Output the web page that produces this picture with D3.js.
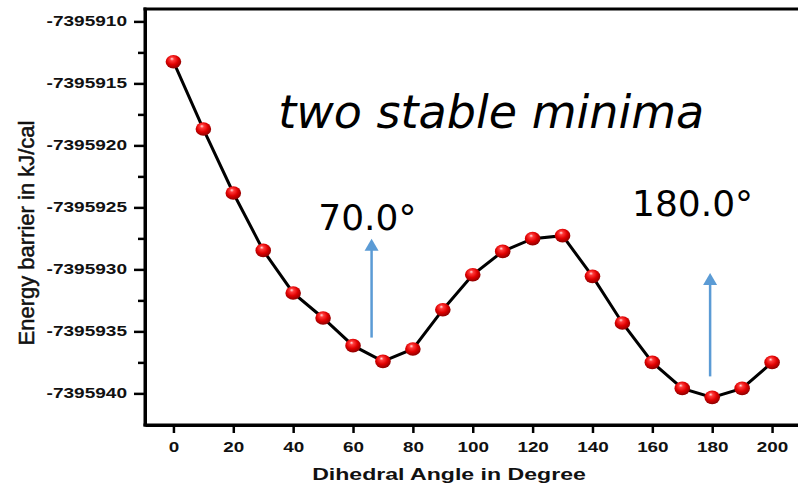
<!DOCTYPE html>
<html>
<head>
<meta charset="utf-8">
<script src="https://cdn.jsdelivr.net/npm/d3@7"></script>
<style>
  body { margin: 0; background: #fff; }
  svg { display: block; }
</style>
</head>
<body>
<svg id="chart" width="798" height="491"></svg>
<script>
// data
const angles = [0, 10, 20, 30, 40, 50, 60, 70, 80, 90, 100, 110, 120, 130, 140, 150, 160, 170, 180, 190, 200]
const energies = [
  -7395913.25, -7395918.68, -7395923.84, -7395928.47, -7395931.9, -7395933.92, -7395936.15,
  -7395937.42, -7395936.42, -7395933.25, -7395930.43, -7395928.55, -7395927.52, -7395927.28,
  -7395930.56, -7395934.32, -7395937.5, -7395939.6, -7395940.32, -7395939.6, -7395937.5
]
const xTicks = [0, 20, 40, 60, 80, 100, 120, 140, 160, 180, 200]
const yTicks = [-7395910, -7395915, -7395920, -7395925, -7395930, -7395935, -7395940]
const yMinorTicks = [-7395912.5, -7395917.5, -7395922.5, -7395927.5, -7395932.5, -7395937.5]

// annotations (data units)
const arrowX = [66.2, 179.3]
const arrowFrom = [-7395935.5, -7395938.63]
const arrowTo = [-7395927.52, -7395930.29]
const noteText = ['two stable minima', '70.0°', '180.0°']
const noteX = [35, 48.4, 153.2]
const noteY = [-7395918.57, -7395926.8, -7395925.7]

function draw() {
  const svg = d3.select('#chart')
  const mL = 145
  const mT = 9
  const mB = 425
  const mR = 802

  const x = d3.scaleLinear().domain([-9.5, 210]).range([mL, mR])
  const y = d3.scaleLinear().domain([-7395942.55, -7395909.0]).range([mB, mT])

  const defs = svg.append('defs')
  const grad = defs.append('radialGradient')
    .attr('id', 'ball')
    .attr('cx', '45%').attr('cy', '40%').attr('r', '60%')
    .attr('fx', '40%').attr('fy', '28%')
  grad.append('stop').attr('offset', '0%').attr('stop-color', '#ffe0e0')
  grad.append('stop').attr('offset', '22%').attr('stop-color', '#ff3a3a')
  grad.append('stop').attr('offset', '60%').attr('stop-color', '#e00000')
  grad.append('stop').attr('offset', '100%').attr('stop-color', '#8c0000')

  // x axis (domain line kept as the bottom edge)
  const gx = svg.append('g')
    .attr('transform', `translate(0,${mB})`)
    .call(d3.axisBottom(x).tickValues(xTicks).tickSize(8).tickSizeOuter(0).tickPadding(8.7).tickFormat(d => String(d)))
  gx.select('.domain').attr('stroke', '#000').attr('stroke-width', 3)
  gx.selectAll('.tick line').attr('stroke', '#000').attr('stroke-width', 2.5)
  gx.selectAll('text')
    .attr('font-family', 'Liberation Sans, Arial, sans-serif')
    .attr('font-weight', 'bold').attr('font-size', 14.5).attr('fill', '#111')
    .attr('transform', 'scale(1.3,1)')

  // y axis (domain line kept as the left edge)
  const gy = svg.append('g')
    .attr('transform', `translate(${mL},0)`)
    .call(d3.axisLeft(y).tickValues(yTicks).tickSize(11).tickSizeOuter(0).tickPadding(0).tickFormat(d => String(d)))
  gy.select('.domain').attr('stroke', '#000').attr('stroke-width', 3)
  gy.selectAll('.tick line').attr('stroke', '#000').attr('stroke-width', 2.5)
  gy.selectAll('text')
    .attr('x', -18 / 1.36)
    .attr('font-family', 'Liberation Sans, Arial, sans-serif')
    .attr('font-weight', 'bold').attr('font-size', 14).attr('fill', '#111')
    .attr('transform', 'scale(1.36,1)')

  const gyMinor = svg.append('g')
    .attr('transform', `translate(${mL},0)`)
    .call(d3.axisLeft(y).tickValues(yMinorTicks).tickSize(7).tickFormat(''))
  gyMinor.select('.domain').remove()
  gyMinor.selectAll('line').attr('stroke', '#000').attr('stroke-width', 2.5)

  // frame edges
  const edges = [
    [mL, mT, mR, mT],
    [mL, mT, mL, mB],
    [mL, mB, mR, mB]
  ]
  svg.selectAll('line.edge')
    .data(edges)
    .join('line')
    .attr('class', 'edge')
    .attr('x1', d => d[0]).attr('y1', d => d[1])
    .attr('x2', d => d[2]).attr('y2', d => d[3])
    .attr('stroke', '#000').attr('stroke-width', 3)
    .attr('stroke-linecap', 'square')

  // axis titles
  svg.append('text')
    .attr('x', 449 / 1.4).attr('y', 480)
    .attr('transform', 'scale(1.4,1)')
    .attr('text-anchor', 'middle')
    .attr('font-family', 'Liberation Sans, Arial, sans-serif')
    .attr('font-weight', 'bold').attr('font-size', 16.5).attr('fill', '#111')
    .text('Dihedral Angle in Degree')

  svg.append('text')
    .attr('transform', 'translate(34,233) rotate(-90)')
    .attr('text-anchor', 'middle')
    .attr('font-family', 'Liberation Sans, Arial, sans-serif')
    .attr('font-size', 22).attr('fill', '#111')
    .attr('stroke', '#111').attr('stroke-width', 0.5)
    .text('Energy barrier in kJ/cal')

  // curve
  const pts = angles.map((a, i) => [a, energies[i]])
  const line = d3.line().x(d => x(d[0])).y(d => y(d[1]))
  svg.append('path')
    .datum(pts)
    .attr('d', line)
    .attr('fill', 'none').attr('stroke', '#000').attr('stroke-width', 3)

  svg.selectAll('ellipse.pt')
    .data(pts)
    .join('ellipse')
    .attr('class', 'pt')
    .attr('cx', d => x(d[0])).attr('cy', d => y(d[1]))
    .attr('rx', 7.8).attr('ry', 6.8)
    .attr('fill', 'url(#ball)')

  // arrows
  const blue = '#5b9bd5'
  arrowX.forEach((ax, i) => {
    const px = x(ax)
    const ya = y(arrowFrom[i])
    const yb = y(arrowTo[i])
    svg.append('line')
      .attr('x1', px).attr('x2', px)
      .attr('y1', ya).attr('y2', yb + 10)
      .attr('stroke', blue).attr('stroke-width', 2.5)
    svg.append('path')
      .attr('d', `M${px},${yb} L${px - 7},${yb + 12} L${px + 7},${yb + 12} Z`)
      .attr('fill', blue)
  })

  // notes
  svg.selectAll('text.note')
    .data(noteText)
    .join('text')
    .attr('class', 'note')
    .attr('x', (d, i) => x(noteX[i]))
    .attr('y', (d, i) => y(noteY[i]))
    .attr('font-family', 'DejaVu Sans, Verdana, sans-serif')
    .attr('font-style', (d, i) => (i === 0 ? 'italic' : 'normal'))
    .attr('font-size', (d, i) => (i === 0 ? 46 : 36))
    .attr('fill', '#000')
    .text(d => d)
}

draw()
</script>
</body>
</html>
